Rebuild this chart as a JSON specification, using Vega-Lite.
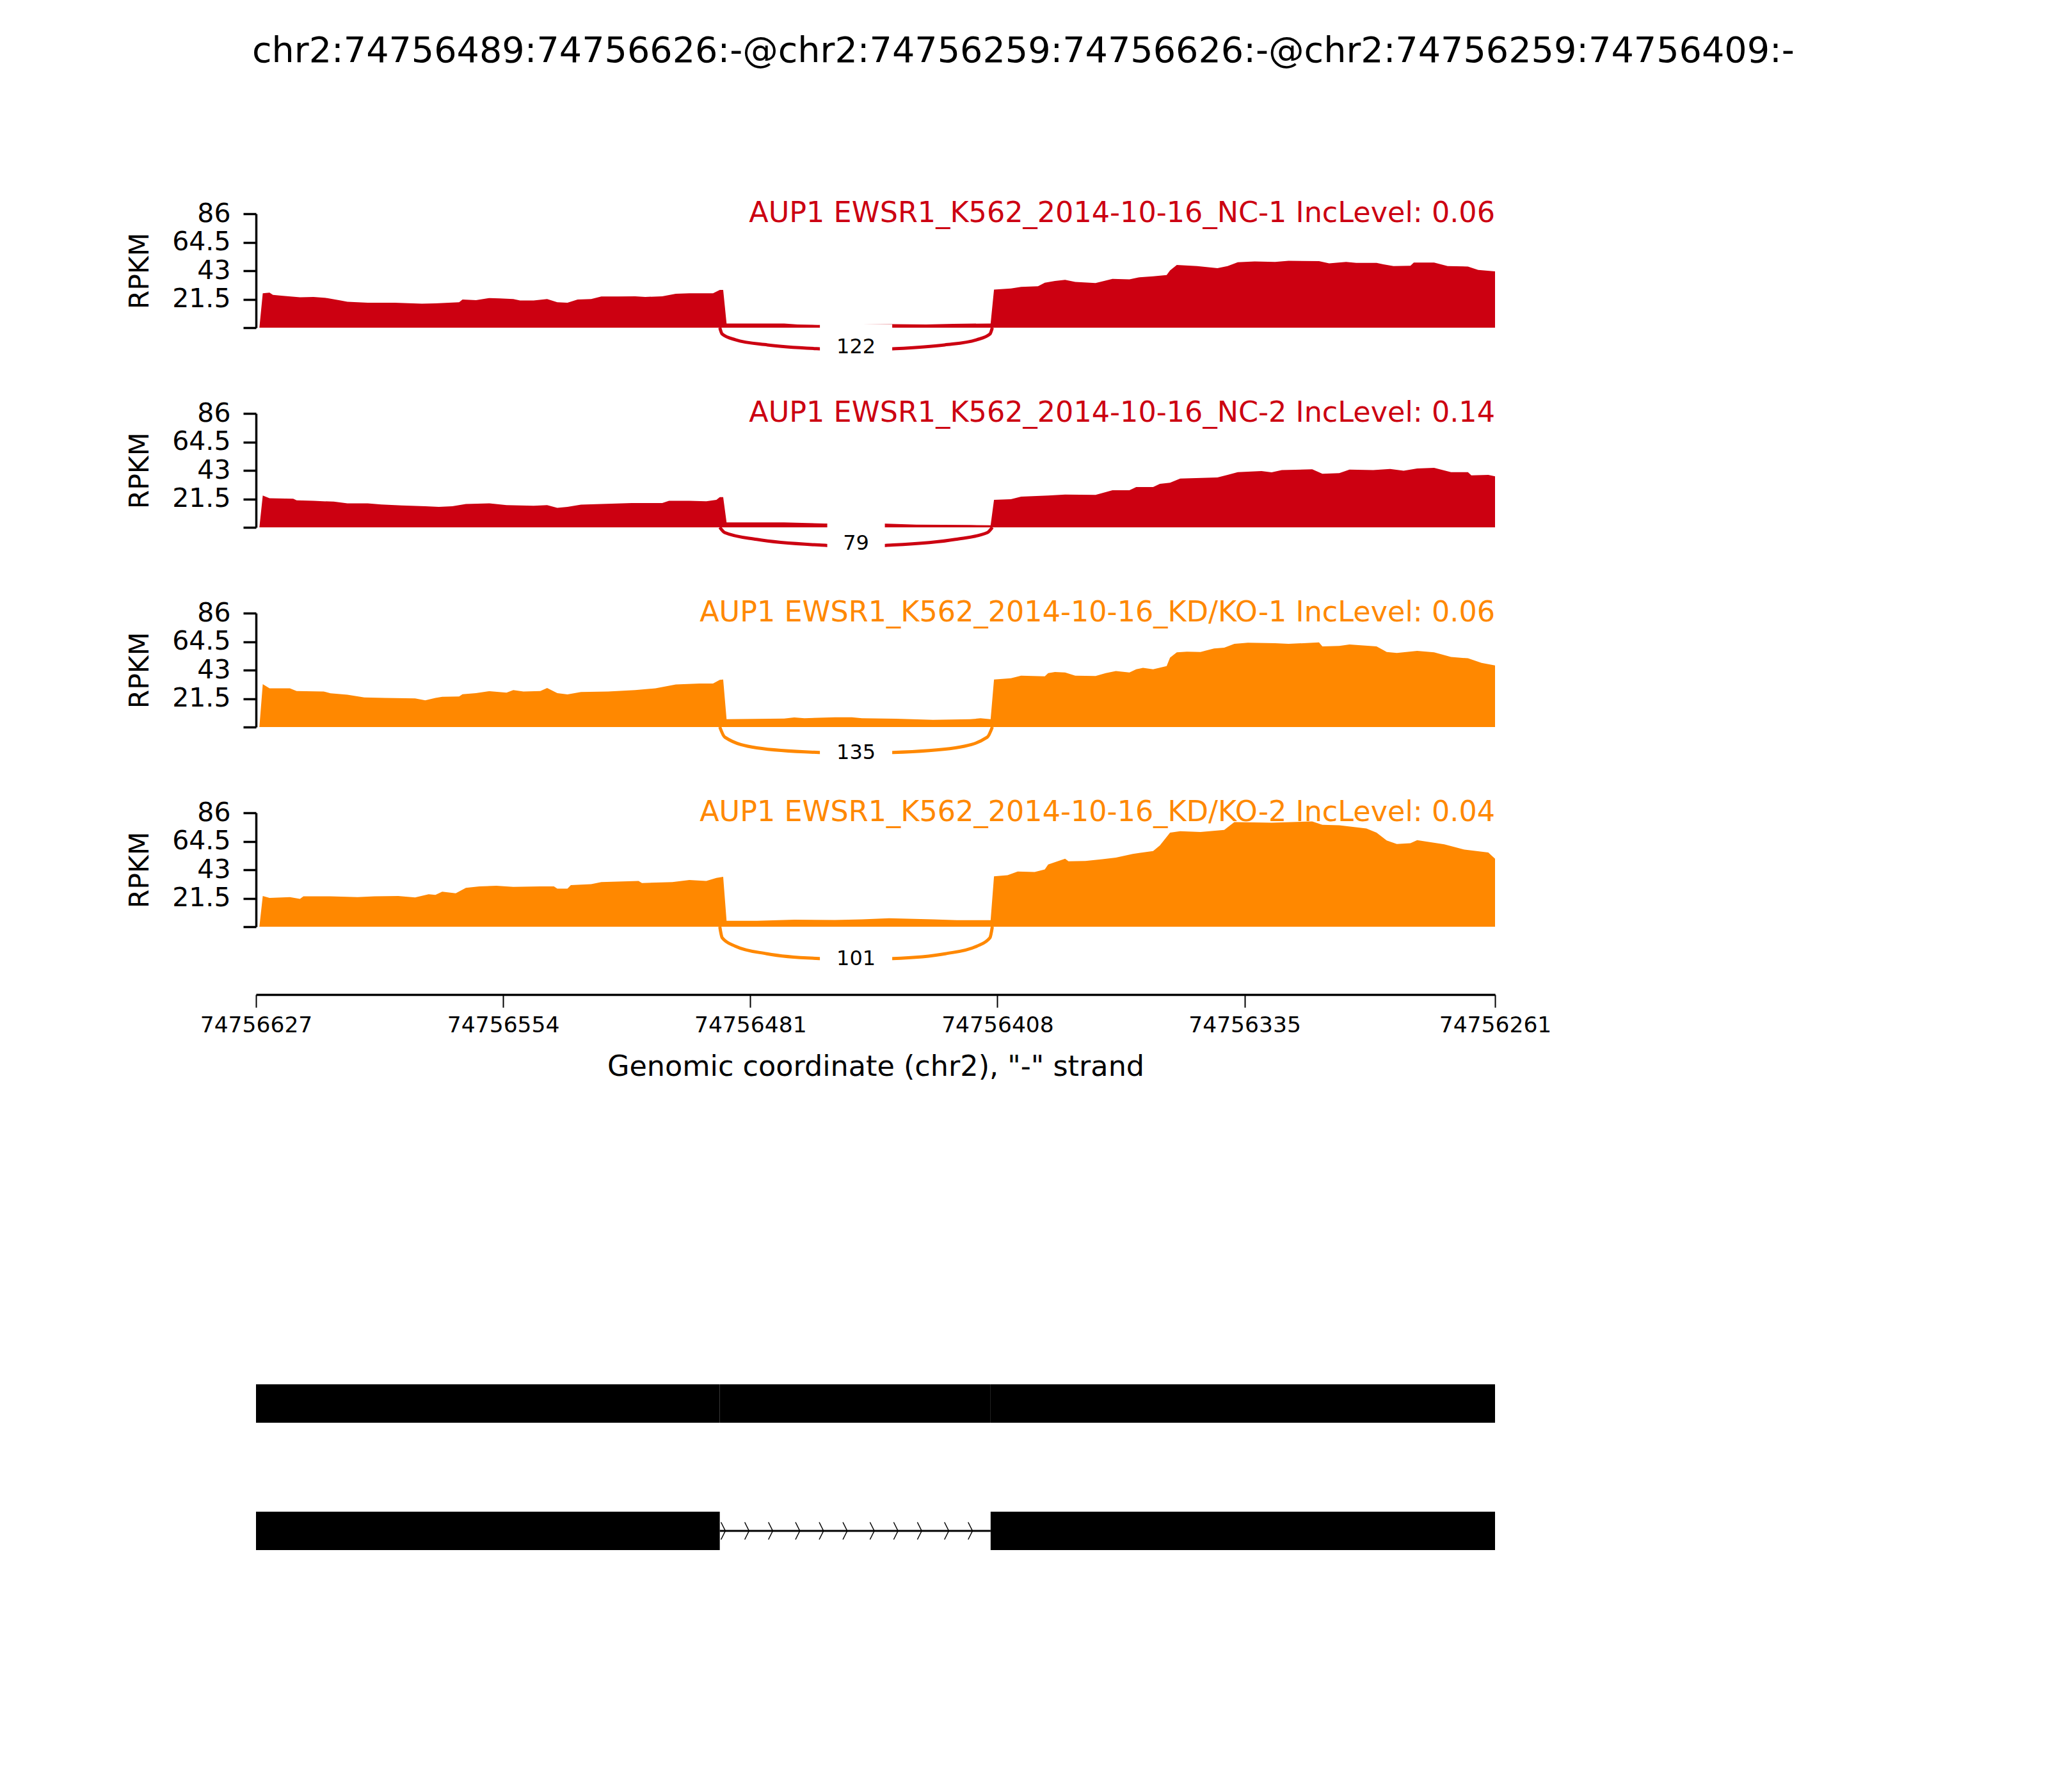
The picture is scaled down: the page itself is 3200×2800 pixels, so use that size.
{
  "$schema": "https://vega.github.io/schema/vega-lite/v6.json",
  "autosize": {"type": "none"},
  "padding": {"left": 400, "top": 334, "right": 2800, "bottom": 2466},
  "background": "white",
  "title": {
    "text": "chr2:74756489:74756626:-@chr2:74756259:74756626:-@chr2:74756259:74756409:-",
    "anchor": "start", "frame": "group", "dx": -6, "offset": 158,
    "fontSize": 55.6, "fontWeight": "normal", "color": "black", "baseline": "alphabetic", "font": "DejaVu Sans"
  },
  "config": {
    "font": "DejaVu Sans",
    "view": {"stroke": null},
    "axis": {"domainColor": "black", "tickColor": "black", "labelColor": "black", "titleColor": "black", "titleFontWeight": "normal", "grid": false, "labelOverlap": false, "labelFlush": false, "labelFont": "DejaVu Sans", "titleFont": "DejaVu Sans"},
    "axisY": {"domainWidth": 3.5, "tickWidth": 3.5, "tickSize": 20, "labelFontSize": 41, "labelPadding": 20, "titleFontSize": 42.5, "titlePadding": 28},
    "axisX": {"domainWidth": 3.5, "tickWidth": 2, "tickSize": 20, "labelFontSize": 34.5, "labelPadding": 11, "titleFontSize": 44.5, "titlePadding": 27}
  },
  "datasets": {
    "coverage": [
      {"s":"NC-1","pos":74756626,"rpkm":0},{"s":"NC-1","pos":74756625,"rpkm":26},{"s":"NC-1","pos":74756623,"rpkm":26.4},{"s":"NC-1","pos":74756622,"rpkm":24.8},{"s":"NC-1","pos":74756619,"rpkm":24},{"s":"NC-1","pos":74756614,"rpkm":22.9},{"s":"NC-1","pos":74756610,"rpkm":23.2},{"s":"NC-1","pos":74756606,"rpkm":22.4},{"s":"NC-1","pos":74756602,"rpkm":20.5},{"s":"NC-1","pos":74756600,"rpkm":19.6},{"s":"NC-1","pos":74756594,"rpkm":18.9},{"s":"NC-1","pos":74756586,"rpkm":18.9},{"s":"NC-1","pos":74756578,"rpkm":18.1},{"s":"NC-1","pos":74756574,"rpkm":18.3},{"s":"NC-1","pos":74756570,"rpkm":18.9},{"s":"NC-1","pos":74756567,"rpkm":19.2},{"s":"NC-1","pos":74756566,"rpkm":21.2},{"s":"NC-1","pos":74756562,"rpkm":20.8},{"s":"NC-1","pos":74756558,"rpkm":22.4},{"s":"NC-1","pos":74756555,"rpkm":22.1},{"s":"NC-1","pos":74756551,"rpkm":21.6},{"s":"NC-1","pos":74756549,"rpkm":20.5},{"s":"NC-1","pos":74756545,"rpkm":20.5},{"s":"NC-1","pos":74756541,"rpkm":21.6},{"s":"NC-1","pos":74756538,"rpkm":19.2},{"s":"NC-1","pos":74756535,"rpkm":18.9},{"s":"NC-1","pos":74756532,"rpkm":21.2},{"s":"NC-1","pos":74756528,"rpkm":21.6},{"s":"NC-1","pos":74756525,"rpkm":23.6},{"s":"NC-1","pos":74756520,"rpkm":23.6},{"s":"NC-1","pos":74756515,"rpkm":23.7},{"s":"NC-1","pos":74756512,"rpkm":23.2},{"s":"NC-1","pos":74756507,"rpkm":23.7},{"s":"NC-1","pos":74756503,"rpkm":25.6},{"s":"NC-1","pos":74756499,"rpkm":26},{"s":"NC-1","pos":74756492,"rpkm":26},{"s":"NC-1","pos":74756490,"rpkm":28.5},{"s":"NC-1","pos":74756489,"rpkm":28.5},{"s":"NC-1","pos":74756488,"rpkm":3.2},{"s":"NC-1","pos":74756471,"rpkm":3.2},{"s":"NC-1","pos":74756467,"rpkm":2.4},{"s":"NC-1","pos":74756461,"rpkm":2.1},{"s":"NC-1","pos":74756439,"rpkm":2.7},{"s":"NC-1","pos":74756429,"rpkm":2.4},{"s":"NC-1","pos":74756421,"rpkm":2.9},{"s":"NC-1","pos":74756410,"rpkm":3.2},{"s":"NC-1","pos":74756409,"rpkm":28.8},{"s":"NC-1","pos":74756404,"rpkm":29.6},{"s":"NC-1","pos":74756401,"rpkm":30.8},{"s":"NC-1","pos":74756396,"rpkm":31.3},{"s":"NC-1","pos":74756394,"rpkm":34},{"s":"NC-1","pos":74756391,"rpkm":35.3},{"s":"NC-1","pos":74756388,"rpkm":36.1},{"s":"NC-1","pos":74756385,"rpkm":34.5},{"s":"NC-1","pos":74756379,"rpkm":33.7},{"s":"NC-1","pos":74756374,"rpkm":36.9},{"s":"NC-1","pos":74756369,"rpkm":36.5},{"s":"NC-1","pos":74756366,"rpkm":38.1},{"s":"NC-1","pos":74756362,"rpkm":38.8},{"s":"NC-1","pos":74756358,"rpkm":39.7},{"s":"NC-1","pos":74756357,"rpkm":43.3},{"s":"NC-1","pos":74756355,"rpkm":47.3},{"s":"NC-1","pos":74756349,"rpkm":46.5},{"s":"NC-1","pos":74756343,"rpkm":44.9},{"s":"NC-1","pos":74756340,"rpkm":46.5},{"s":"NC-1","pos":74756337,"rpkm":49.4},{"s":"NC-1","pos":74756332,"rpkm":50},{"s":"NC-1","pos":74756326,"rpkm":49.7},{"s":"NC-1","pos":74756322,"rpkm":50.5},{"s":"NC-1","pos":74756313,"rpkm":50.2},{"s":"NC-1","pos":74756310,"rpkm":48.6},{"s":"NC-1","pos":74756305,"rpkm":49.7},{"s":"NC-1","pos":74756302,"rpkm":48.9},{"s":"NC-1","pos":74756296,"rpkm":48.9},{"s":"NC-1","pos":74756294,"rpkm":47.8},{"s":"NC-1","pos":74756291,"rpkm":46.5},{"s":"NC-1","pos":74756286,"rpkm":46.8},{"s":"NC-1","pos":74756285,"rpkm":49.2},{"s":"NC-1","pos":74756279,"rpkm":49.2},{"s":"NC-1","pos":74756275,"rpkm":46.5},{"s":"NC-1","pos":74756269,"rpkm":46.2},{"s":"NC-1","pos":74756266,"rpkm":43.6},{"s":"NC-1","pos":74756261,"rpkm":42.5},

      {"s":"NC-2","pos":74756626,"rpkm":0},{"s":"NC-2","pos":74756625,"rpkm":24},{"s":"NC-2","pos":74756623,"rpkm":22},{"s":"NC-2","pos":74756616,"rpkm":21.6},{"s":"NC-2","pos":74756615,"rpkm":20.4},{"s":"NC-2","pos":74756610,"rpkm":20},{"s":"NC-2","pos":74756604,"rpkm":19.4},{"s":"NC-2","pos":74756600,"rpkm":18.1},{"s":"NC-2","pos":74756594,"rpkm":18.1},{"s":"NC-2","pos":74756590,"rpkm":17.3},{"s":"NC-2","pos":74756584,"rpkm":16.5},{"s":"NC-2","pos":74756577,"rpkm":16},{"s":"NC-2","pos":74756573,"rpkm":15.5},{"s":"NC-2","pos":74756569,"rpkm":16},{"s":"NC-2","pos":74756565,"rpkm":17.6},{"s":"NC-2","pos":74756558,"rpkm":18.1},{"s":"NC-2","pos":74756553,"rpkm":16.8},{"s":"NC-2","pos":74756545,"rpkm":16.3},{"s":"NC-2","pos":74756541,"rpkm":16.8},{"s":"NC-2","pos":74756538,"rpkm":14.7},{"s":"NC-2","pos":74756535,"rpkm":15.5},{"s":"NC-2","pos":74756531,"rpkm":17.1},{"s":"NC-2","pos":74756525,"rpkm":17.6},{"s":"NC-2","pos":74756516,"rpkm":18.4},{"s":"NC-2","pos":74756507,"rpkm":18.4},{"s":"NC-2","pos":74756505,"rpkm":20},{"s":"NC-2","pos":74756499,"rpkm":20},{"s":"NC-2","pos":74756494,"rpkm":19.7},{"s":"NC-2","pos":74756491,"rpkm":20.8},{"s":"NC-2","pos":74756490,"rpkm":22.8},{"s":"NC-2","pos":74756489,"rpkm":22.8},{"s":"NC-2","pos":74756488,"rpkm":3.7},{"s":"NC-2","pos":74756471,"rpkm":3.7},{"s":"NC-2","pos":74756459,"rpkm":2.9},{"s":"NC-2","pos":74756442,"rpkm":2.9},{"s":"NC-2","pos":74756432,"rpkm":2.1},{"s":"NC-2","pos":74756416,"rpkm":1.8},{"s":"NC-2","pos":74756410,"rpkm":1.6},{"s":"NC-2","pos":74756409,"rpkm":20.8},{"s":"NC-2","pos":74756404,"rpkm":21.3},{"s":"NC-2","pos":74756401,"rpkm":23.2},{"s":"NC-2","pos":74756393,"rpkm":24},{"s":"NC-2","pos":74756388,"rpkm":24.8},{"s":"NC-2","pos":74756379,"rpkm":24.5},{"s":"NC-2","pos":74756374,"rpkm":28},{"s":"NC-2","pos":74756369,"rpkm":28},{"s":"NC-2","pos":74756367,"rpkm":30.4},{"s":"NC-2","pos":74756362,"rpkm":30.4},{"s":"NC-2","pos":74756360,"rpkm":32.9},{"s":"NC-2","pos":74756357,"rpkm":33.7},{"s":"NC-2","pos":74756354,"rpkm":36.9},{"s":"NC-2","pos":74756343,"rpkm":37.7},{"s":"NC-2","pos":74756340,"rpkm":39.6},{"s":"NC-2","pos":74756337,"rpkm":41.7},{"s":"NC-2","pos":74756330,"rpkm":42.5},{"s":"NC-2","pos":74756327,"rpkm":41.5},{"s":"NC-2","pos":74756324,"rpkm":43.3},{"s":"NC-2","pos":74756315,"rpkm":43.8},{"s":"NC-2","pos":74756312,"rpkm":40.5},{"s":"NC-2","pos":74756307,"rpkm":40.9},{"s":"NC-2","pos":74756304,"rpkm":43.6},{"s":"NC-2","pos":74756297,"rpkm":43.3},{"s":"NC-2","pos":74756292,"rpkm":44.1},{"s":"NC-2","pos":74756288,"rpkm":42.8},{"s":"NC-2","pos":74756284,"rpkm":44.4},{"s":"NC-2","pos":74756279,"rpkm":44.9},{"s":"NC-2","pos":74756274,"rpkm":41.7},{"s":"NC-2","pos":74756269,"rpkm":41.7},{"s":"NC-2","pos":74756268,"rpkm":39.3},{"s":"NC-2","pos":74756263,"rpkm":39.6},{"s":"NC-2","pos":74756261,"rpkm":38.5},

      {"s":"KD/KO-1","pos":74756626,"rpkm":0},{"s":"KD/KO-1","pos":74756625,"rpkm":32.4},{"s":"KD/KO-1","pos":74756623,"rpkm":29.2},{"s":"KD/KO-1","pos":74756617,"rpkm":29.2},{"s":"KD/KO-1","pos":74756615,"rpkm":27.2},{"s":"KD/KO-1","pos":74756607,"rpkm":26.8},{"s":"KD/KO-1","pos":74756605,"rpkm":25.5},{"s":"KD/KO-1","pos":74756600,"rpkm":24.4},{"s":"KD/KO-1","pos":74756595,"rpkm":22.3},{"s":"KD/KO-1","pos":74756589,"rpkm":22},{"s":"KD/KO-1","pos":74756580,"rpkm":21.6},{"s":"KD/KO-1","pos":74756577,"rpkm":20.2},{"s":"KD/KO-1","pos":74756574,"rpkm":22},{"s":"KD/KO-1","pos":74756572,"rpkm":22.8},{"s":"KD/KO-1","pos":74756567,"rpkm":23.1},{"s":"KD/KO-1","pos":74756566,"rpkm":24.8},{"s":"KD/KO-1","pos":74756562,"rpkm":25.6},{"s":"KD/KO-1","pos":74756558,"rpkm":27.1},{"s":"KD/KO-1","pos":74756553,"rpkm":26},{"s":"KD/KO-1","pos":74756551,"rpkm":27.9},{"s":"KD/KO-1","pos":74756548,"rpkm":26.8},{"s":"KD/KO-1","pos":74756543,"rpkm":27.2},{"s":"KD/KO-1","pos":74756541,"rpkm":29.5},{"s":"KD/KO-1","pos":74756538,"rpkm":25.6},{"s":"KD/KO-1","pos":74756535,"rpkm":24.7},{"s":"KD/KO-1","pos":74756531,"rpkm":26.4},{"s":"KD/KO-1","pos":74756523,"rpkm":26.8},{"s":"KD/KO-1","pos":74756515,"rpkm":27.9},{"s":"KD/KO-1","pos":74756509,"rpkm":29.2},{"s":"KD/KO-1","pos":74756503,"rpkm":32.1},{"s":"KD/KO-1","pos":74756496,"rpkm":32.9},{"s":"KD/KO-1","pos":74756492,"rpkm":32.9},{"s":"KD/KO-1","pos":74756490,"rpkm":35.6},{"s":"KD/KO-1","pos":74756489,"rpkm":35.9},{"s":"KD/KO-1","pos":74756488,"rpkm":5.9},{"s":"KD/KO-1","pos":74756471,"rpkm":6.4},{"s":"KD/KO-1","pos":74756468,"rpkm":7.2},{"s":"KD/KO-1","pos":74756465,"rpkm":6.7},{"s":"KD/KO-1","pos":74756456,"rpkm":7.4},{"s":"KD/KO-1","pos":74756451,"rpkm":7.4},{"s":"KD/KO-1","pos":74756448,"rpkm":6.7},{"s":"KD/KO-1","pos":74756438,"rpkm":6.3},{"s":"KD/KO-1","pos":74756427,"rpkm":5.4},{"s":"KD/KO-1","pos":74756416,"rpkm":5.9},{"s":"KD/KO-1","pos":74756413,"rpkm":6.6},{"s":"KD/KO-1","pos":74756410,"rpkm":5.9},{"s":"KD/KO-1","pos":74756409,"rpkm":35.9},{"s":"KD/KO-1","pos":74756404,"rpkm":36.9},{"s":"KD/KO-1","pos":74756401,"rpkm":38.8},{"s":"KD/KO-1","pos":74756394,"rpkm":38.3},{"s":"KD/KO-1","pos":74756393,"rpkm":40.7},{"s":"KD/KO-1","pos":74756391,"rpkm":41.5},{"s":"KD/KO-1","pos":74756388,"rpkm":41.2},{"s":"KD/KO-1","pos":74756385,"rpkm":38.8},{"s":"KD/KO-1","pos":74756379,"rpkm":38.5},{"s":"KD/KO-1","pos":74756376,"rpkm":40.7},{"s":"KD/KO-1","pos":74756373,"rpkm":42.3},{"s":"KD/KO-1","pos":74756369,"rpkm":41.2},{"s":"KD/KO-1","pos":74756367,"rpkm":43.6},{"s":"KD/KO-1","pos":74756365,"rpkm":44.7},{"s":"KD/KO-1","pos":74756362,"rpkm":43.6},{"s":"KD/KO-1","pos":74756358,"rpkm":46},{"s":"KD/KO-1","pos":74756357,"rpkm":52.4},{"s":"KD/KO-1","pos":74756355,"rpkm":56.4},{"s":"KD/KO-1","pos":74756352,"rpkm":56.9},{"s":"KD/KO-1","pos":74756348,"rpkm":56.7},{"s":"KD/KO-1","pos":74756344,"rpkm":59.3},{"s":"KD/KO-1","pos":74756341,"rpkm":59.9},{"s":"KD/KO-1","pos":74756338,"rpkm":62.8},{"s":"KD/KO-1","pos":74756334,"rpkm":63.6},{"s":"KD/KO-1","pos":74756326,"rpkm":63.3},{"s":"KD/KO-1","pos":74756322,"rpkm":62.8},{"s":"KD/KO-1","pos":74756313,"rpkm":63.9},{"s":"KD/KO-1","pos":74756312,"rpkm":60.9},{"s":"KD/KO-1","pos":74756307,"rpkm":61.2},{"s":"KD/KO-1","pos":74756304,"rpkm":62.3},{"s":"KD/KO-1","pos":74756296,"rpkm":60.9},{"s":"KD/KO-1","pos":74756293,"rpkm":56.7},{"s":"KD/KO-1","pos":74756290,"rpkm":55.9},{"s":"KD/KO-1","pos":74756284,"rpkm":57.5},{"s":"KD/KO-1","pos":74756279,"rpkm":56.4},{"s":"KD/KO-1","pos":74756274,"rpkm":52.9},{"s":"KD/KO-1","pos":74756269,"rpkm":51.9},{"s":"KD/KO-1","pos":74756265,"rpkm":48.4},{"s":"KD/KO-1","pos":74756261,"rpkm":46.5},

      {"s":"KD/KO-2","pos":74756626,"rpkm":0},{"s":"KD/KO-2","pos":74756625,"rpkm":23.2},{"s":"KD/KO-2","pos":74756623,"rpkm":21.8},{"s":"KD/KO-2","pos":74756617,"rpkm":22.4},{"s":"KD/KO-2","pos":74756614,"rpkm":21},{"s":"KD/KO-2","pos":74756613,"rpkm":22.9},{"s":"KD/KO-2","pos":74756605,"rpkm":22.9},{"s":"KD/KO-2","pos":74756597,"rpkm":22.4},{"s":"KD/KO-2","pos":74756592,"rpkm":22.9},{"s":"KD/KO-2","pos":74756585,"rpkm":23.2},{"s":"KD/KO-2","pos":74756580,"rpkm":22.1},{"s":"KD/KO-2","pos":74756576,"rpkm":24.5},{"s":"KD/KO-2","pos":74756574,"rpkm":24},{"s":"KD/KO-2","pos":74756572,"rpkm":26.4},{"s":"KD/KO-2","pos":74756568,"rpkm":25.3},{"s":"KD/KO-2","pos":74756565,"rpkm":29.3},{"s":"KD/KO-2","pos":74756561,"rpkm":30.4},{"s":"KD/KO-2","pos":74756556,"rpkm":30.9},{"s":"KD/KO-2","pos":74756551,"rpkm":30.1},{"s":"KD/KO-2","pos":74756543,"rpkm":30.4},{"s":"KD/KO-2","pos":74756539,"rpkm":30.4},{"s":"KD/KO-2","pos":74756538,"rpkm":28.8},{"s":"KD/KO-2","pos":74756535,"rpkm":28.8},{"s":"KD/KO-2","pos":74756534,"rpkm":31.4},{"s":"KD/KO-2","pos":74756528,"rpkm":32.1},{"s":"KD/KO-2","pos":74756525,"rpkm":33.7},{"s":"KD/KO-2","pos":74756514,"rpkm":34.5},{"s":"KD/KO-2","pos":74756513,"rpkm":33},{"s":"KD/KO-2","pos":74756504,"rpkm":33.7},{"s":"KD/KO-2","pos":74756499,"rpkm":35.3},{"s":"KD/KO-2","pos":74756494,"rpkm":34.6},{"s":"KD/KO-2","pos":74756491,"rpkm":36.9},{"s":"KD/KO-2","pos":74756489,"rpkm":37.7},{"s":"KD/KO-2","pos":74756488,"rpkm":4.5},{"s":"KD/KO-2","pos":74756479,"rpkm":4.5},{"s":"KD/KO-2","pos":74756468,"rpkm":5.3},{"s":"KD/KO-2","pos":74756456,"rpkm":5.1},{"s":"KD/KO-2","pos":74756448,"rpkm":5.6},{"s":"KD/KO-2","pos":74756440,"rpkm":6.4},{"s":"KD/KO-2","pos":74756427,"rpkm":5.6},{"s":"KD/KO-2","pos":74756420,"rpkm":5},{"s":"KD/KO-2","pos":74756410,"rpkm":5},{"s":"KD/KO-2","pos":74756409,"rpkm":38.1},{"s":"KD/KO-2","pos":74756405,"rpkm":38.9},{"s":"KD/KO-2","pos":74756402,"rpkm":41.7},{"s":"KD/KO-2","pos":74756397,"rpkm":41.3},{"s":"KD/KO-2","pos":74756394,"rpkm":43.3},{"s":"KD/KO-2","pos":74756393,"rpkm":47},{"s":"KD/KO-2","pos":74756388,"rpkm":51.3},{"s":"KD/KO-2","pos":74756387,"rpkm":49.4},{"s":"KD/KO-2","pos":74756382,"rpkm":49.7},{"s":"KD/KO-2","pos":74756377,"rpkm":51},{"s":"KD/KO-2","pos":74756373,"rpkm":52.2},{"s":"KD/KO-2","pos":74756368,"rpkm":55},{"s":"KD/KO-2","pos":74756362,"rpkm":57.1},{"s":"KD/KO-2","pos":74756360,"rpkm":61.4},{"s":"KD/KO-2","pos":74756357,"rpkm":71},{"s":"KD/KO-2","pos":74756354,"rpkm":72.1},{"s":"KD/KO-2","pos":74756348,"rpkm":71.5},{"s":"KD/KO-2","pos":74756341,"rpkm":73.1},{"s":"KD/KO-2","pos":74756338,"rpkm":79},{"s":"KD/KO-2","pos":74756327,"rpkm":78.5},{"s":"KD/KO-2","pos":74756315,"rpkm":79.5},{"s":"KD/KO-2","pos":74756312,"rpkm":76.9},{"s":"KD/KO-2","pos":74756307,"rpkm":76.6},{"s":"KD/KO-2","pos":74756299,"rpkm":74.2},{"s":"KD/KO-2","pos":74756296,"rpkm":71},{"s":"KD/KO-2","pos":74756293,"rpkm":65.1},{"s":"KD/KO-2","pos":74756290,"rpkm":62.5},{"s":"KD/KO-2","pos":74756286,"rpkm":63},{"s":"KD/KO-2","pos":74756284,"rpkm":65.4},{"s":"KD/KO-2","pos":74756276,"rpkm":62.2},{"s":"KD/KO-2","pos":74756270,"rpkm":58.2},{"s":"KD/KO-2","pos":74756263,"rpkm":56.1},{"s":"KD/KO-2","pos":74756261,"rpkm":51.3}
    ],
    "arcs": [
      {"s":"NC-1","pos":74756490,"rpkm":0},{"s":"NC-1","pos":74756489.3,"rpkm":-4.8},{"s":"NC-1","pos":74756485.4,"rpkm":-9.1},{"s":"NC-1","pos":74756475.9,"rpkm":-13},{"s":"NC-1","pos":74756460.6,"rpkm":-15.9},{"s":"NC-1","pos":74756449.75,"rpkm":-16.8},{"s":"NC-1","pos":74756438.9,"rpkm":-15.9},{"s":"NC-1","pos":74756423.6,"rpkm":-13},{"s":"NC-1","pos":74756414.1,"rpkm":-9.1},{"s":"NC-1","pos":74756410.2,"rpkm":-4.8},{"s":"NC-1","pos":74756409.5,"rpkm":0},
      {"s":"NC-2","pos":74756490,"rpkm":0},{"s":"NC-2","pos":74756488.5,"rpkm":-4},{"s":"NC-2","pos":74756479.1,"rpkm":-9.1},{"s":"NC-2","pos":74756458.5,"rpkm":-13.6},{"s":"NC-2","pos":74756449.75,"rpkm":-14.4},{"s":"NC-2","pos":74756441,"rpkm":-13.6},{"s":"NC-2","pos":74756420.4,"rpkm":-9.1},{"s":"NC-2","pos":74756411,"rpkm":-4},{"s":"NC-2","pos":74756409.5,"rpkm":0},
      {"s":"KD/KO-1","pos":74756490,"rpkm":0},{"s":"KD/KO-1","pos":74756488.5,"rpkm":-7.7},{"s":"KD/KO-1","pos":74756479.1,"rpkm":-15.7},{"s":"KD/KO-1","pos":74756460.6,"rpkm":-19.2},{"s":"KD/KO-1","pos":74756449.75,"rpkm":-19.7},{"s":"KD/KO-1","pos":74756438.9,"rpkm":-19.2},{"s":"KD/KO-1","pos":74756420.4,"rpkm":-15.7},{"s":"KD/KO-1","pos":74756411,"rpkm":-7.7},{"s":"KD/KO-1","pos":74756409.5,"rpkm":0},
      {"s":"KD/KO-2","pos":74756490,"rpkm":0},{"s":"KD/KO-2","pos":74756489.3,"rpkm":-8.3},{"s":"KD/KO-2","pos":74756485.4,"rpkm":-14.7},{"s":"KD/KO-2","pos":74756476.1,"rpkm":-20.4},{"s":"KD/KO-2","pos":74756460.6,"rpkm":-24},{"s":"KD/KO-2","pos":74756449.75,"rpkm":-24.5},{"s":"KD/KO-2","pos":74756438.9,"rpkm":-24},{"s":"KD/KO-2","pos":74756423.4,"rpkm":-20.4},{"s":"KD/KO-2","pos":74756414.1,"rpkm":-14.7},{"s":"KD/KO-2","pos":74756410.2,"rpkm":-8.3},{"s":"KD/KO-2","pos":74756409.5,"rpkm":0}
    ],
    "junctions": [
      {"s":"NC-1","pos":74756449.75,"rpkm":-14.4,"n":"122"},
      {"s":"NC-2","pos":74756449.75,"rpkm":-12.3,"n":"79"},
      {"s":"KD/KO-1","pos":74756449.75,"rpkm":-19.2,"n":"135"},
      {"s":"KD/KO-2","pos":74756449.75,"rpkm":-24,"n":"101"}
    ],
    "headers": [
      {"s":"NC-1","label":"AUP1 EWSR1_K562_2014-10-16_NC-1 IncLevel: 0.06"},
      {"s":"NC-2","label":"AUP1 EWSR1_K562_2014-10-16_NC-2 IncLevel: 0.14"},
      {"s":"KD/KO-1","label":"AUP1 EWSR1_K562_2014-10-16_KD/KO-1 IncLevel: 0.06"},
      {"s":"KD/KO-2","label":"AUP1 EWSR1_K562_2014-10-16_KD/KO-2 IncLevel: 0.04"}
    ],
    "exons": [
      {"iso":"1","start":74756627,"end":74756490},
      {"iso":"1","start":74756490,"end":74756410},
      {"iso":"1","start":74756410,"end":74756261},
      {"iso":"2","start":74756627,"end":74756490},
      {"iso":"2","start":74756410,"end":74756261}
    ],
    "introns": [
      {"iso":"2","start":74756490,"end":74756410}
    ],
    "chevrons": [
      {"iso":"2","pos":74756489},{"iso":"2","pos":74756482},{"iso":"2","pos":74756475},{"iso":"2","pos":74756467},{"iso":"2","pos":74756460},{"iso":"2","pos":74756453},{"iso":"2","pos":74756445},{"iso":"2","pos":74756438},{"iso":"2","pos":74756431},{"iso":"2","pos":74756423},{"iso":"2","pos":74756416}
    ]
  },
  "bounds": "flush",
  "spacing": 134,
  "vconcat": [
    {
      "width": 1936, "height": 178,
      "layer": [
        {"data": {"name": "coverage"}, "transform": [{"filter": "datum.s == 'NC-1'"}],
         "mark": {"type": "area", "color": "#CC0011", "interpolate": "linear"},
         "encoding": {
           "x": {"field": "pos", "type": "quantitative", "scale": {"domain": [74756261, 74756627], "reverse": true, "zero": false, "nice": false}, "axis": null},
           "y": {"field": "rpkm", "type": "quantitative", "title": "RPKM", "scale": {"domain": [0, 86], "zero": false, "nice": false}, "axis": {"values": [0, 21.5, 43, 64.5, 86], "labelExpr": "datum.value == 0 ? '' : '' + datum.value"}}
         }},
        {"data": {"name": "arcs"}, "transform": [{"filter": "datum.s == 'NC-1'"}],
         "mark": {"type": "line", "color": "#CC0011", "strokeWidth": 5, "interpolate": "monotone"},
         "encoding": {
           "x": {"field": "pos", "type": "quantitative", "scale": {"domain": [74756261, 74756627], "reverse": true, "zero": false, "nice": false}, "axis": null},
           "y": {"field": "rpkm", "type": "quantitative", "title": "RPKM", "scale": {"domain": [0, 86], "zero": false, "nice": false}}
         }},
        {"data": {"name": "junctions"}, "transform": [{"filter": "datum.s == 'NC-1'"}],
         "mark": {"type": "point", "shape": "M-1,-0.62L1,-0.62L1,0.62L-1,0.62Z", "filled": true, "fill": "white", "color": "white", "opacity": 1, "strokeWidth": 0, "size": 12769},
         "encoding": {
           "x": {"field": "pos", "type": "quantitative", "scale": {"domain": [74756261, 74756627], "reverse": true, "zero": false, "nice": false}, "axis": null},
           "y": {"field": "rpkm", "type": "quantitative", "title": "RPKM", "scale": {"domain": [0, 86], "zero": false, "nice": false}}
         }},
        {"data": {"name": "junctions"}, "transform": [{"filter": "datum.s == 'NC-1'"}],
         "mark": {"type": "text", "fontSize": 32, "color": "black", "align": "center", "baseline": "middle"},
         "encoding": {
           "x": {"field": "pos", "type": "quantitative", "scale": {"domain": [74756261, 74756627], "reverse": true, "zero": false, "nice": false}, "axis": null},
           "y": {"field": "rpkm", "type": "quantitative", "title": "RPKM", "scale": {"domain": [0, 86], "zero": false, "nice": false}},
           "text": {"field": "n"}
         }},
        {"data": {"name": "headers"}, "transform": [{"filter": "datum.s == 'NC-1'"}],
         "mark": {"type": "text", "fontSize": 44.5, "color": "#CC0011", "align": "right", "baseline": "alphabetic", "dy": 13},
         "encoding": {
           "x": {"datum": 74756261, "type": "quantitative", "scale": {"domain": [74756261, 74756627], "reverse": true, "zero": false, "nice": false}, "axis": null},
           "y": {"datum": 86, "type": "quantitative", "title": "RPKM", "scale": {"domain": [0, 86], "zero": false, "nice": false}},
           "text": {"field": "label"}
         }}
      ]
    },
    {
      "width": 1936, "height": 178,
      "layer": [
        {"data": {"name": "coverage"}, "transform": [{"filter": "datum.s == 'NC-2'"}],
         "mark": {"type": "area", "color": "#CC0011", "interpolate": "linear"},
         "encoding": {
           "x": {"field": "pos", "type": "quantitative", "scale": {"domain": [74756261, 74756627], "reverse": true, "zero": false, "nice": false}, "axis": null},
           "y": {"field": "rpkm", "type": "quantitative", "title": "RPKM", "scale": {"domain": [0, 86], "zero": false, "nice": false}, "axis": {"values": [0, 21.5, 43, 64.5, 86], "labelExpr": "datum.value == 0 ? '' : '' + datum.value"}}
         }},
        {"data": {"name": "arcs"}, "transform": [{"filter": "datum.s == 'NC-2'"}],
         "mark": {"type": "line", "color": "#CC0011", "strokeWidth": 5, "interpolate": "monotone"},
         "encoding": {
           "x": {"field": "pos", "type": "quantitative", "scale": {"domain": [74756261, 74756627], "reverse": true, "zero": false, "nice": false}, "axis": null},
           "y": {"field": "rpkm", "type": "quantitative", "title": "RPKM", "scale": {"domain": [0, 86], "zero": false, "nice": false}}
         }},
        {"data": {"name": "junctions"}, "transform": [{"filter": "datum.s == 'NC-2'"}],
         "mark": {"type": "point", "shape": "M-1,-0.72L1,-0.72L1,0.72L-1,0.72Z", "filled": true, "fill": "white", "color": "white", "opacity": 1, "strokeWidth": 0, "size": 8100},
         "encoding": {
           "x": {"field": "pos", "type": "quantitative", "scale": {"domain": [74756261, 74756627], "reverse": true, "zero": false, "nice": false}, "axis": null},
           "y": {"field": "rpkm", "type": "quantitative", "title": "RPKM", "scale": {"domain": [0, 86], "zero": false, "nice": false}}
         }},
        {"data": {"name": "junctions"}, "transform": [{"filter": "datum.s == 'NC-2'"}],
         "mark": {"type": "text", "fontSize": 32, "color": "black", "align": "center", "baseline": "middle"},
         "encoding": {
           "x": {"field": "pos", "type": "quantitative", "scale": {"domain": [74756261, 74756627], "reverse": true, "zero": false, "nice": false}, "axis": null},
           "y": {"field": "rpkm", "type": "quantitative", "title": "RPKM", "scale": {"domain": [0, 86], "zero": false, "nice": false}},
           "text": {"field": "n"}
         }},
        {"data": {"name": "headers"}, "transform": [{"filter": "datum.s == 'NC-2'"}],
         "mark": {"type": "text", "fontSize": 44.5, "color": "#CC0011", "align": "right", "baseline": "alphabetic", "dy": 13},
         "encoding": {
           "x": {"datum": 74756261, "type": "quantitative", "scale": {"domain": [74756261, 74756627], "reverse": true, "zero": false, "nice": false}, "axis": null},
           "y": {"datum": 86, "type": "quantitative", "title": "RPKM", "scale": {"domain": [0, 86], "zero": false, "nice": false}},
           "text": {"field": "label"}
         }}
      ]
    },
    {
      "width": 1936, "height": 178,
      "layer": [
        {"data": {"name": "coverage"}, "transform": [{"filter": "datum.s == 'KD/KO-1'"}],
         "mark": {"type": "area", "color": "#FF8800", "interpolate": "linear"},
         "encoding": {
           "x": {"field": "pos", "type": "quantitative", "scale": {"domain": [74756261, 74756627], "reverse": true, "zero": false, "nice": false}, "axis": null},
           "y": {"field": "rpkm", "type": "quantitative", "title": "RPKM", "scale": {"domain": [0, 86], "zero": false, "nice": false}, "axis": {"values": [0, 21.5, 43, 64.5, 86], "labelExpr": "datum.value == 0 ? '' : '' + datum.value"}}
         }},
        {"data": {"name": "arcs"}, "transform": [{"filter": "datum.s == 'KD/KO-1'"}],
         "mark": {"type": "line", "color": "#FF8800", "strokeWidth": 5, "interpolate": "monotone"},
         "encoding": {
           "x": {"field": "pos", "type": "quantitative", "scale": {"domain": [74756261, 74756627], "reverse": true, "zero": false, "nice": false}, "axis": null},
           "y": {"field": "rpkm", "type": "quantitative", "title": "RPKM", "scale": {"domain": [0, 86], "zero": false, "nice": false}}
         }},
        {"data": {"name": "junctions"}, "transform": [{"filter": "datum.s == 'KD/KO-1'"}],
         "mark": {"type": "point", "shape": "M-1,-0.62L1,-0.62L1,0.62L-1,0.62Z", "filled": true, "fill": "white", "color": "white", "opacity": 1, "strokeWidth": 0, "size": 12769},
         "encoding": {
           "x": {"field": "pos", "type": "quantitative", "scale": {"domain": [74756261, 74756627], "reverse": true, "zero": false, "nice": false}, "axis": null},
           "y": {"field": "rpkm", "type": "quantitative", "title": "RPKM", "scale": {"domain": [0, 86], "zero": false, "nice": false}}
         }},
        {"data": {"name": "junctions"}, "transform": [{"filter": "datum.s == 'KD/KO-1'"}],
         "mark": {"type": "text", "fontSize": 32, "color": "black", "align": "center", "baseline": "middle"},
         "encoding": {
           "x": {"field": "pos", "type": "quantitative", "scale": {"domain": [74756261, 74756627], "reverse": true, "zero": false, "nice": false}, "axis": null},
           "y": {"field": "rpkm", "type": "quantitative", "title": "RPKM", "scale": {"domain": [0, 86], "zero": false, "nice": false}},
           "text": {"field": "n"}
         }},
        {"data": {"name": "headers"}, "transform": [{"filter": "datum.s == 'KD/KO-1'"}],
         "mark": {"type": "text", "fontSize": 44.5, "color": "#FF8800", "align": "right", "baseline": "alphabetic", "dy": 13},
         "encoding": {
           "x": {"datum": 74756261, "type": "quantitative", "scale": {"domain": [74756261, 74756627], "reverse": true, "zero": false, "nice": false}, "axis": null},
           "y": {"datum": 86, "type": "quantitative", "title": "RPKM", "scale": {"domain": [0, 86], "zero": false, "nice": false}},
           "text": {"field": "label"}
         }}
      ]
    },
    {
      "width": 1936, "height": 178,
      "layer": [
        {"data": {"name": "coverage"}, "transform": [{"filter": "datum.s == 'KD/KO-2'"}],
         "mark": {"type": "area", "color": "#FF8800", "interpolate": "linear"},
         "encoding": {
           "x": {"field": "pos", "type": "quantitative", "title": "Genomic coordinate (chr2), \"-\" strand", "scale": {"domain": [74756261, 74756627], "reverse": true, "zero": false, "nice": false}, "axis": {"values": [74756627, 74756554, 74756481, 74756408, 74756335, 74756261], "format": "d", "offset": 106}},
           "y": {"field": "rpkm", "type": "quantitative", "title": "RPKM", "scale": {"domain": [0, 86], "zero": false, "nice": false}, "axis": {"values": [0, 21.5, 43, 64.5, 86], "labelExpr": "datum.value == 0 ? '' : '' + datum.value"}}
         }},
        {"data": {"name": "arcs"}, "transform": [{"filter": "datum.s == 'KD/KO-2'"}],
         "mark": {"type": "line", "color": "#FF8800", "strokeWidth": 5, "interpolate": "monotone"},
         "encoding": {
           "x": {"field": "pos", "type": "quantitative", "title": "Genomic coordinate (chr2), \"-\" strand", "scale": {"domain": [74756261, 74756627], "reverse": true, "zero": false, "nice": false}},
           "y": {"field": "rpkm", "type": "quantitative", "title": "RPKM", "scale": {"domain": [0, 86], "zero": false, "nice": false}}
         }},
        {"data": {"name": "junctions"}, "transform": [{"filter": "datum.s == 'KD/KO-2'"}],
         "mark": {"type": "point", "shape": "M-1,-0.62L1,-0.62L1,0.62L-1,0.62Z", "filled": true, "fill": "white", "color": "white", "opacity": 1, "strokeWidth": 0, "size": 12769},
         "encoding": {
           "x": {"field": "pos", "type": "quantitative", "title": "Genomic coordinate (chr2), \"-\" strand", "scale": {"domain": [74756261, 74756627], "reverse": true, "zero": false, "nice": false}},
           "y": {"field": "rpkm", "type": "quantitative", "title": "RPKM", "scale": {"domain": [0, 86], "zero": false, "nice": false}}
         }},
        {"data": {"name": "junctions"}, "transform": [{"filter": "datum.s == 'KD/KO-2'"}],
         "mark": {"type": "text", "fontSize": 32, "color": "black", "align": "center", "baseline": "middle"},
         "encoding": {
           "x": {"field": "pos", "type": "quantitative", "title": "Genomic coordinate (chr2), \"-\" strand", "scale": {"domain": [74756261, 74756627], "reverse": true, "zero": false, "nice": false}},
           "y": {"field": "rpkm", "type": "quantitative", "title": "RPKM", "scale": {"domain": [0, 86], "zero": false, "nice": false}},
           "text": {"field": "n"}
         }},
        {"data": {"name": "headers"}, "transform": [{"filter": "datum.s == 'KD/KO-2'"}],
         "mark": {"type": "text", "fontSize": 44.5, "color": "#FF8800", "align": "right", "baseline": "alphabetic", "dy": 13},
         "encoding": {
           "x": {"datum": 74756261, "type": "quantitative", "title": "Genomic coordinate (chr2), \"-\" strand", "scale": {"domain": [74756261, 74756627], "reverse": true, "zero": false, "nice": false}},
           "y": {"datum": 86, "type": "quantitative", "title": "RPKM", "scale": {"domain": [0, 86], "zero": false, "nice": false}},
           "text": {"field": "label"}
         }}
      ]
    },
    {
      "width": 1936, "height": 840,
      "layer": [
        {"data": {"name": "introns"},
         "mark": {"type": "rule", "color": "black", "strokeWidth": 3},
         "encoding": {
           "x": {"field": "start", "type": "quantitative", "scale": {"domain": [74756261, 74756627], "reverse": true, "zero": false, "nice": false}, "axis": null},
           "x2": {"field": "end"},
           "y": {"field": "iso", "type": "nominal", "scale": {"type": "band", "domain": ["1", "2"], "paddingInner": 0.6985, "paddingOuter": 0, "range": [581, 840]}, "axis": null}
         }},
        {"data": {"name": "chevrons"},
         "mark": {"type": "point", "shape": "M-0.25,-1L0.25,0L-0.25,1", "filled": false, "color": "black", "strokeWidth": 1.5, "size": 729, "opacity": 1},
         "encoding": {
           "x": {"field": "pos", "type": "quantitative", "scale": {"domain": [74756261, 74756627], "reverse": true, "zero": false, "nice": false}, "axis": null},
           "y": {"field": "iso", "type": "nominal", "scale": {"type": "band", "domain": ["1", "2"], "paddingInner": 0.6985, "paddingOuter": 0, "range": [581, 840]}, "axis": null}
         }},
        {"data": {"name": "exons"},
         "mark": {"type": "rect", "color": "black"},
         "encoding": {
           "x": {"field": "start", "type": "quantitative", "scale": {"domain": [74756261, 74756627], "reverse": true, "zero": false, "nice": false}, "axis": null},
           "x2": {"field": "end"},
           "y": {"field": "iso", "type": "nominal", "scale": {"type": "band", "domain": ["1", "2"], "paddingInner": 0.6985, "paddingOuter": 0, "range": [581, 840]}, "axis": null}
         }}
      ]
    }
  ]
}
